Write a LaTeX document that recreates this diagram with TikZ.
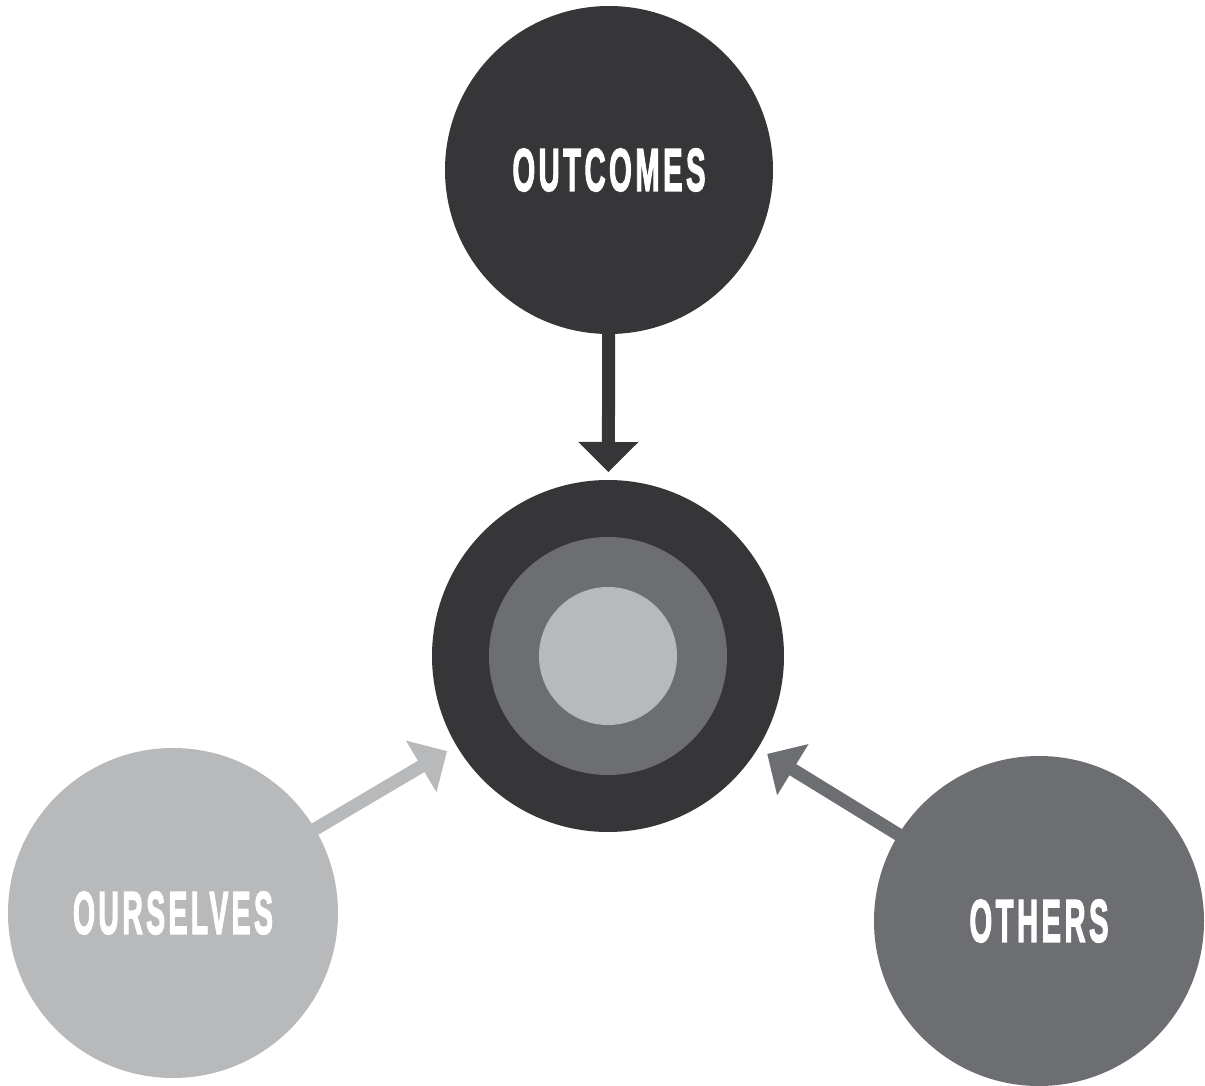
\documentclass[tikz,border=0pt]{standalone}
\usepackage{fontspec}
\setmainfont{Liberation Sans}
\newfontfamily\lblfont[FakeBold=3,LetterSpace=12]{Liberation Sans Bold}
\usetikzlibrary{calc}
\definecolor{cdark}{HTML}{363638}
\definecolor{cmid}{HTML}{6D6E71}
\definecolor{clight}{HTML}{B8B9BB}
\newcommand{\lbl}[2]{\resizebox{#1pt}{42pt}{\lblfont #2}}
% \fatarrow{source}{start distance from source centre}{tip distance from core centre}{colour}
\newcommand{\fatarrow}[4]{%
  \coordinate (S) at ($(#1)!#2pt!(core)$);
  \coordinate (T) at ($(core)!#3pt!(#1)$);
  \coordinate (B) at ($(T)!30pt!(#1)$);
  \fill[#4] ($(S)!6.5pt!90:(T)$) -- ($(B)!6.5pt!-90:(S)$) -- ($(B)!30pt!-90:(S)$) -- (T)
     -- ($(B)!30pt!90:(S)$) -- ($(B)!6.5pt!90:(S)$) -- ($(S)!6.5pt!-90:(T)$) -- cycle;
}
\tikzset{
  disc/.style={circle, inner sep=0pt, outer sep=0pt, minimum size=#1, text=white}
}
\begin{document}
\begin{tikzpicture}[x=1pt,y=-1pt]
\useasboundingbox[fill=white] (0,0) rectangle (1205,1086);
% nodes
\node[disc=328pt, fill=cdark] (outcomes) at (609,170) {\lbl{193}{OUTCOMES}};
\node[disc=352pt, fill=cdark] (core) at (608,656) {};
\node[disc=238pt, fill=cmid] (ring) at (608,656) {};
\node[disc=138pt, fill=clight] (inner) at (608,656) {};
\node[disc=330pt, fill=clight] (ourselves) at (173,913) {\lbl{200}{OURSELVES}};
\node[disc=330pt, fill=cmid] (others) at (1039,921) {\lbl{139}{OTHERS}};
% connectors
\fatarrow{outcomes}{160}{184}{cdark}
\fatarrow{ourselves}{160}{187}{clight}
\fatarrow{others}{160}{187}{cmid}
\end{tikzpicture}
\end{document}
